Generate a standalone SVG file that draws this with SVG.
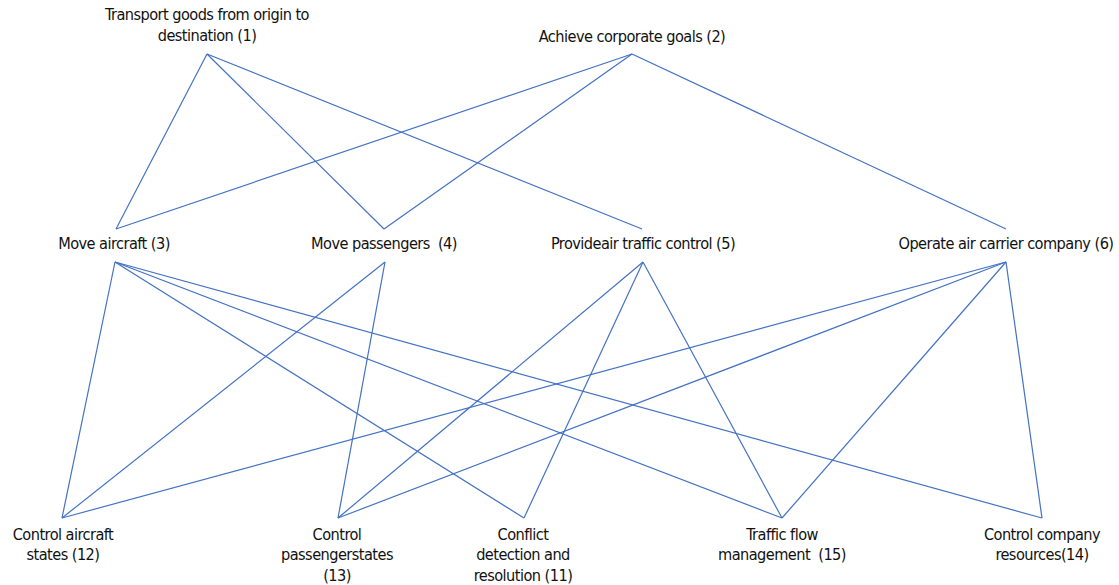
<svg xmlns="http://www.w3.org/2000/svg" width="1119" height="585" viewBox="0 0 1119 585">
  <style>
    .lbl { font-family: "DejaVu Sans Condensed", "DejaVu Sans", sans-serif; font-size: 16.2px; fill: #111; text-anchor: middle; letter-spacing: -0.55px; }
    .edge { stroke: #4472C4; stroke-width: 1.2; fill: none; }
  </style>
  <rect width="1119" height="585" fill="#fff"/>
  <g id="connectors" class="edge">
    <!-- top level to second level -->
    <line x1="207" y1="54" x2="116" y2="229"/>
    <line x1="207" y1="54" x2="384" y2="229"/>
    <line x1="207" y1="54" x2="642" y2="229"/>
    <line x1="632" y1="54" x2="116" y2="229"/>
    <line x1="632" y1="54" x2="384" y2="229"/>
    <line x1="632" y1="54" x2="1006" y2="229"/>
    <!-- second level to third level -->
    <line x1="115" y1="262" x2="62" y2="518"/>
    <line x1="115" y1="262" x2="524" y2="518"/>
    <line x1="115" y1="262" x2="782" y2="518"/>
    <line x1="115" y1="262" x2="1042" y2="518"/>
    <line x1="385" y1="262" x2="62" y2="518"/>
    <line x1="385" y1="262" x2="338" y2="518"/>
    <line x1="643" y1="262" x2="338" y2="518"/>
    <line x1="643" y1="262" x2="524" y2="518"/>
    <line x1="643" y1="262" x2="782" y2="518"/>
    <line x1="1006" y1="262" x2="62" y2="518"/>
    <line x1="1006" y1="262" x2="338" y2="518"/>
    <line x1="1006" y1="262" x2="782" y2="518"/>
    <line x1="1006" y1="262" x2="1042" y2="518"/>
  </g>
  <g id="n1"><text class="lbl" x="207" y="20">Transport goods from origin to</text><text class="lbl" x="207" y="41">destination (1)</text></g>
  <g id="n2"><text class="lbl" x="632" y="42">Achieve corporate goals (2)</text></g>
  <g id="n3"><text class="lbl" x="114" y="249">Move aircraft (3)</text></g>
  <g id="n4"><text class="lbl" x="384" y="249" xml:space="preserve">Move passengers  (4)</text></g>
  <g id="n5"><text class="lbl" x="643" y="249">Provideair traffic control (5)</text></g>
  <g id="n6"><text class="lbl" x="1006" y="249">Operate air carrier company (6)</text></g>
  <g id="n12"><text class="lbl" x="63" y="540">Control aircraft</text><text class="lbl" x="63" y="560">states (12)</text></g>
  <g id="n13"><text class="lbl" x="337" y="540">Control</text><text class="lbl" x="337" y="560">passengerstates</text><text class="lbl" x="337" y="581">(13)</text></g>
  <g id="n11"><text class="lbl" x="523" y="540">Conflict</text><text class="lbl" x="523" y="560">detection and</text><text class="lbl" x="523" y="581">resolution (11)</text></g>
  <g id="n15"><text class="lbl" x="782" y="540">Traffic flow</text><text class="lbl" x="782" y="560" xml:space="preserve">management  (15)</text></g>
  <g id="n14"><text class="lbl" x="1042" y="540">Control company</text><text class="lbl" x="1042" y="560">resources(14)</text></g>
</svg>
